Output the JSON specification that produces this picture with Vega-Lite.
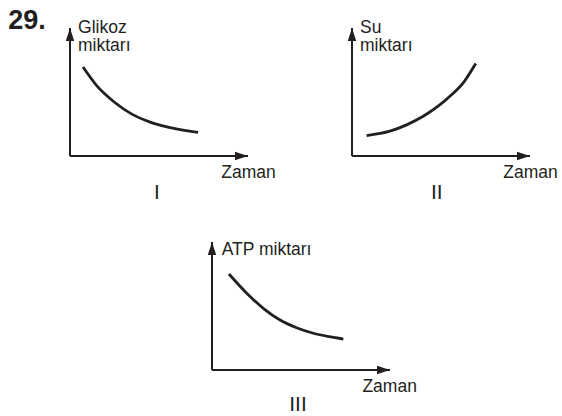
{
  "$schema": "https://vega.github.io/schema/vega-lite/v6.json",
  "padding": 0,
  "spacing": 0,
  "background": "white",
  "config": {
    "view": {"stroke": null},
    "axis": {"disable": true},
    "text": {"font": "Liberation Sans", "color": "#231f20"},
    "concat": {"spacing": 0}
  },
  "datasets": {
    "axes": [
      {"x": 0, "y": 0, "x2": 10, "y2": 0, "axis": "x"},
      {"x": 0, "y": 0, "x2": 0, "y2": 10, "axis": "y"}
    ],
    "glikoz": [
      {"t": 0.73, "v": 6.95},
      {"t": 1.5, "v": 5.5},
      {"t": 2.5, "v": 4.2},
      {"t": 3.5, "v": 3.25},
      {"t": 4.5, "v": 2.65},
      {"t": 5.5, "v": 2.25},
      {"t": 6.5, "v": 1.98},
      {"t": 7.2, "v": 1.85}
    ],
    "su": [
      {"t": 0.82, "v": 1.6},
      {"t": 2.13, "v": 1.94},
      {"t": 3.1, "v": 2.45},
      {"t": 4.0, "v": 3.1},
      {"t": 4.8, "v": 3.85},
      {"t": 5.5, "v": 4.67},
      {"t": 6.25, "v": 5.72},
      {"t": 6.95, "v": 7.23}
    ],
    "atp": [
      {"t": 0.95, "v": 7.5},
      {"t": 1.95, "v": 6.0},
      {"t": 2.9, "v": 4.8},
      {"t": 3.82, "v": 3.9},
      {"t": 4.75, "v": 3.3},
      {"t": 5.69, "v": 2.87},
      {"t": 6.6, "v": 2.6},
      {"t": 7.38, "v": 2.42}
    ]
  },
  "vconcat": [
    {
      "spacing": 0,
      "hconcat": [
        {
          "width": 290,
          "height": 205,
          "layer": [
            {
              "data": {"name": "axes"},
              "mark": {"type": "rule", "color": "#231f20", "strokeWidth": 2},
              "encoding": {
                "x": {"field": "x", "type": "quantitative", "scale": {"domain": [-3.933, 12.36], "nice": false, "zero": false}},
                "y": {"field": "y", "type": "quantitative", "scale": {"domain": [-3.828, 12.1875], "nice": false, "zero": false}},
                "x2": {"field": "x2"},
                "y2": {"field": "y2"}
              }
            },
            {
              "data": {"name": "axes"},
              "mark": {"type": "point", "filled": true, "color": "#231f20", "opacity": 1, "size": 169, "strokeWidth": 0},
              "encoding": {
                "x": {"field": "x2", "type": "quantitative"},
                "y": {"field": "y2", "type": "quantitative"},
                "shape": {"field": "axis", "type": "nominal", "legend": null, "scale": {"domain": ["x", "y"], "range": ["M0,0L-2,-0.65L-2,0.65Z", "M0,0L-0.65,2L0.65,2Z"]}}
              }
            },
            {
              "data": {"name": "glikoz"},
              "mark": {"type": "line", "color": "#231f20", "strokeWidth": 2.8, "interpolate": "monotone"},
              "encoding": {
                "x": {"field": "t", "type": "quantitative"},
                "y": {"field": "v", "type": "quantitative"}
              }
            },
            {
              "data": {"values": [
                {"x": -3.47, "y": 9.9, "label": "29."}
              ]},
              "mark": {"type": "text", "align": "left", "baseline": "alphabetic", "fontSize": 27, "fontWeight": "bold"},
              "encoding": {
                "x": {"field": "x", "type": "quantitative"},
                "y": {"field": "y", "type": "quantitative"},
                "text": {"field": "label"}
              }
            },
            {
              "data": {"values": [
                {"x": 0.45, "y": 9.61, "label": "Glikoz"},
                {"x": 0.45, "y": 8.2, "label": "miktarı"},
                {"x": 8.5, "y": -1.7, "label": "Zaman"}
              ]},
              "mark": {"type": "text", "align": "left", "baseline": "alphabetic", "fontSize": 17.5},
              "encoding": {
                "x": {"field": "x", "type": "quantitative"},
                "y": {"field": "y", "type": "quantitative"},
                "text": {"field": "label"}
              }
            },
            {
              "data": {"values": [{"x": 4.89, "y": -3.36, "label": "I"}]},
              "mark": {"type": "text", "align": "center", "baseline": "alphabetic", "fontSize": 21},
              "encoding": {
                "x": {"field": "x", "type": "quantitative"},
                "y": {"field": "y", "type": "quantitative"},
                "text": {"field": "label"}
              }
            }
          ]
        },
        {
          "width": 272,
          "height": 205,
          "layer": [
            {
              "data": {"name": "axes"},
              "mark": {"type": "rule", "color": "#231f20", "strokeWidth": 2},
              "encoding": {
                "x": {"field": "x", "type": "quantitative", "scale": {"domain": [-3.483, 11.798], "nice": false, "zero": false}},
                "y": {"field": "y", "type": "quantitative", "scale": {"domain": [-3.828, 12.1875], "nice": false, "zero": false}},
                "x2": {"field": "x2"},
                "y2": {"field": "y2"}
              }
            },
            {
              "data": {"name": "axes"},
              "mark": {"type": "point", "filled": true, "color": "#231f20", "opacity": 1, "size": 169, "strokeWidth": 0},
              "encoding": {
                "x": {"field": "x2", "type": "quantitative"},
                "y": {"field": "y2", "type": "quantitative"},
                "shape": {"field": "axis", "type": "nominal", "legend": null, "scale": {"domain": ["x", "y"], "range": ["M0,0L-2,-0.65L-2,0.65Z", "M0,0L-0.65,2L0.65,2Z"]}}
              }
            },
            {
              "data": {"name": "su"},
              "mark": {"type": "line", "color": "#231f20", "strokeWidth": 2.8, "interpolate": "monotone"},
              "encoding": {
                "x": {"field": "t", "type": "quantitative"},
                "y": {"field": "v", "type": "quantitative"}
              }
            },
            {
              "data": {"values": [
                {"x": 0.45, "y": 9.61, "label": "Su"},
                {"x": 0.45, "y": 8.2, "label": "miktarı"},
                {"x": 8.5, "y": -1.7, "label": "Zaman"}
              ]},
              "mark": {"type": "text", "align": "left", "baseline": "alphabetic", "fontSize": 17.5},
              "encoding": {
                "x": {"field": "x", "type": "quantitative"},
                "y": {"field": "y", "type": "quantitative"},
                "text": {"field": "label"}
              }
            },
            {
              "data": {"values": [{"x": 4.76, "y": -3.36, "label": "II"}]},
              "mark": {"type": "text", "align": "center", "baseline": "alphabetic", "fontSize": 21},
              "encoding": {
                "x": {"field": "x", "type": "quantitative"},
                "y": {"field": "y", "type": "quantitative"},
                "text": {"field": "label"}
              }
            }
          ]
        }
      ]
    },
    {
      "width": 562,
      "height": 211,
      "layer": [
        {
          "data": {"name": "axes"},
          "mark": {"type": "rule", "color": "#231f20", "strokeWidth": 2},
          "encoding": {
            "x": {"field": "x", "type": "quantitative", "scale": {"domain": [-11.91, 19.663], "nice": false, "zero": false}},
            "y": {"field": "y", "type": "quantitative", "scale": {"domain": [-3.594, 12.89], "nice": false, "zero": false}},
            "x2": {"field": "x2"},
            "y2": {"field": "y2"}
          }
        },
        {
          "data": {"name": "axes"},
          "mark": {"type": "point", "filled": true, "color": "#231f20", "opacity": 1, "size": 169, "strokeWidth": 0},
          "encoding": {
            "x": {"field": "x2", "type": "quantitative"},
            "y": {"field": "y2", "type": "quantitative"},
            "shape": {"field": "axis", "type": "nominal", "legend": null, "scale": {"domain": ["x", "y"], "range": ["M0,0L-2,-0.65L-2,0.65Z", "M0,0L-0.65,2L0.65,2Z"]}}
          }
        },
        {
          "data": {"name": "atp"},
          "mark": {"type": "line", "color": "#231f20", "strokeWidth": 2.8, "interpolate": "monotone"},
          "encoding": {
            "x": {"field": "t", "type": "quantitative"},
            "y": {"field": "v", "type": "quantitative"}
          }
        },
        {
          "data": {"values": [
            {"x": 0.545, "y": 8.98, "label": "ATP miktarı"},
            {"x": 8.45, "y": -1.7, "label": "Zaman"}
          ]},
          "mark": {"type": "text", "align": "left", "baseline": "alphabetic", "fontSize": 17.5},
          "encoding": {
            "x": {"field": "x", "type": "quantitative"},
            "y": {"field": "y", "type": "quantitative"},
            "text": {"field": "label"}
          }
        },
        {
          "data": {"values": [{"x": 4.83, "y": -3.23, "label": "III"}]},
          "mark": {"type": "text", "align": "center", "baseline": "alphabetic", "fontSize": 21},
          "encoding": {
            "x": {"field": "x", "type": "quantitative"},
            "y": {"field": "y", "type": "quantitative"},
            "text": {"field": "label"}
          }
        }
      ]
    }
  ]
}
